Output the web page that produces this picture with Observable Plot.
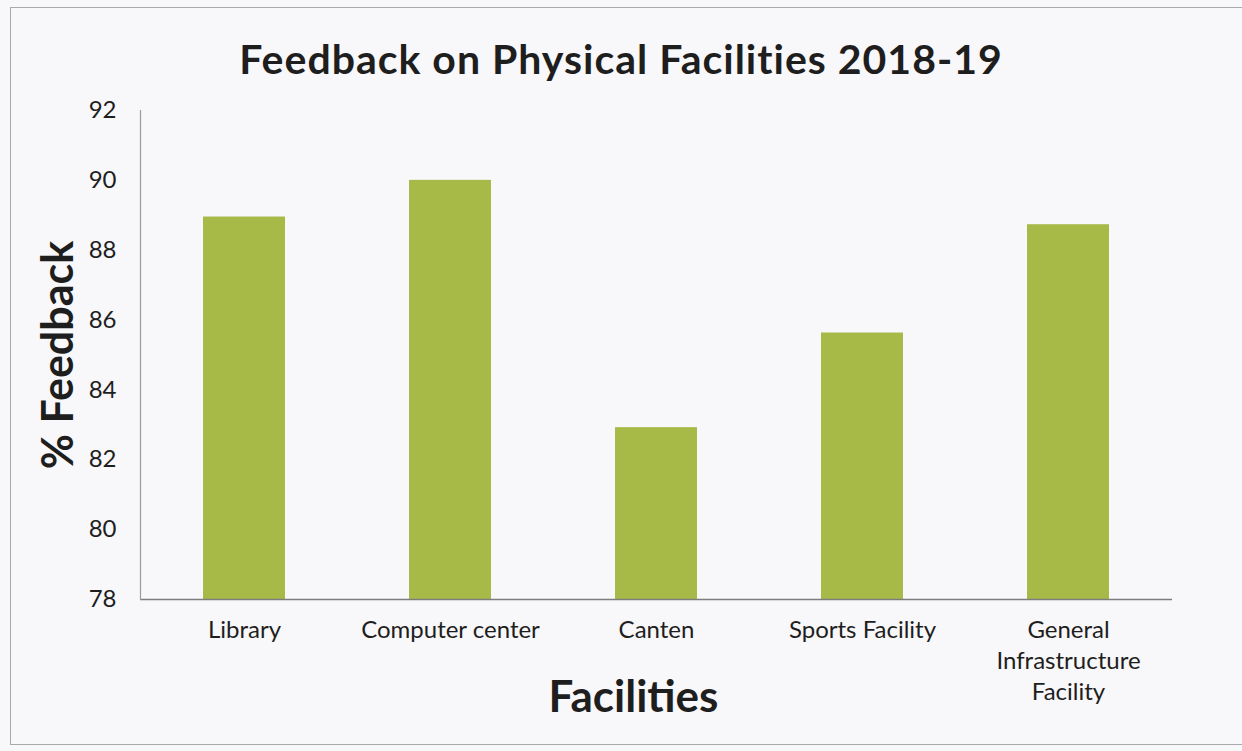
<!DOCTYPE html>
<html>
<head>
<meta charset="utf-8">
<script src="https://cdn.jsdelivr.net/npm/d3@7"></script>
<script src="https://cdn.jsdelivr.net/npm/@observablehq/plot@0.6"></script>
<style>
  html, body { margin: 0; padding: 0; width: 1242px; height: 751px; overflow: hidden; background: #f8f7f9; font-family: Lato, "Open Sans", sans-serif; }
  #border { position: absolute; left: 10px; top: 7px; width: 1240px; height: 738px; border: 1.5px solid #a9a9ad; box-sizing: border-box; }
  #title { position: absolute; left: 0; top: 38px; width: 1242px; text-align: center; font-size: 41px; font-weight: 700; letter-spacing: 1px; line-height: 1; color: #1e1e1e; }
  #chart { position: absolute; left: 0; top: 90px; }
  #chart svg { background: transparent; }
</style>
</head>
<body>
<div id="border"></div>
<div id="title">Feedback on Physical Facilities 2018-19</div>
<div id="chart"></div>
<script>
const facilities = ["Library", "Computer center", "Canten", "Sports Facility", "General Infrastructure Facility"];
const feedback = [88.95, 90, 82.92, 85.63, 88.73];
const yTicks = [78, 80, 82, 84, 86, 88, 90, 92];
const tickLabels = {"General Infrastructure Facility": "General\nInfrastructure\nFacility"};
const yLabel = "% Feedback";
const xLabel = "Facilities";

const data = facilities.map((f, i) => ({facility: f, value: feedback[i]}));

const chart = Plot.plot({
  width: 1242,
  height: 661,
  marginLeft: 140,
  marginRight: 70,
  marginTop: 20,
  marginBottom: 152,
  style: {fontFamily: "Lato, 'Open Sans', sans-serif", color: "#1e1e1e", background: "transparent"},
  x: {domain: facilities, paddingInner: 0.6, paddingOuter: 0.3},
  y: {domain: [78, 92]},
  marks: [
    Plot.barY(data, {x: "facility", y1: 78, y2: "value", fill: "#a7ba48"}),
    Plot.ruleY([78], {stroke: "#7d7d80", strokeWidth: 1.5}),
    Plot.frame({anchor: "left", stroke: "#9a9aa0", strokeWidth: 1.2}),
    Plot.axisY({ticks: yTicks, tickSize: 0, tickPadding: 24, fontSize: 24, label: null}),
    Plot.axisX({tickSize: 0, tickPadding: 16, fontSize: 24, lineHeight: 1.3, label: null,
      tickFormat: d => tickLabels[d] ?? d}),
    Plot.text([xLabel], {text: d => d, frameAnchor: "bottom", dx: -23, dy: 98, fontSize: 44, fontWeight: "bold", lineAnchor: "middle"}),
    Plot.text([yLabel], {text: d => d, frameAnchor: "left", textAnchor: "middle", rotate: -90, dx: -81, fontSize: 43, fontWeight: "bold", lineAnchor: "middle"})
  ]
});
document.getElementById("chart").appendChild(chart);
</script>
</body>
</html>
